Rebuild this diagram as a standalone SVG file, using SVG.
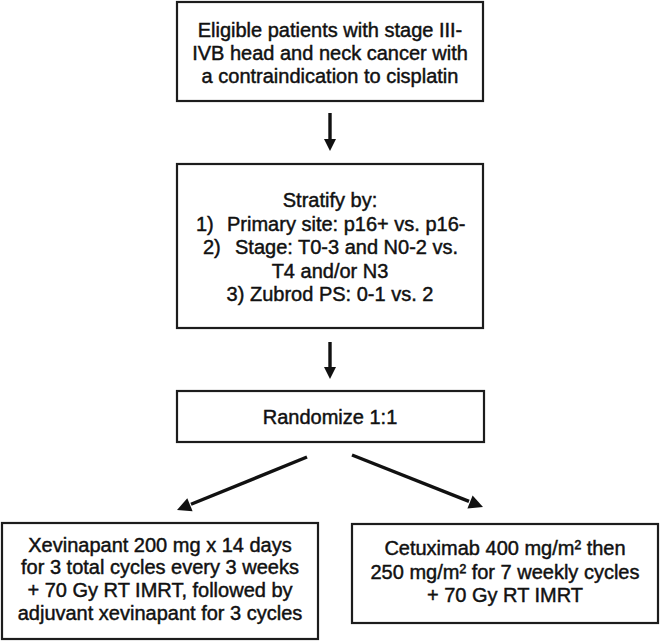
<svg xmlns="http://www.w3.org/2000/svg" width="661" height="642" viewBox="0 0 661 642">
<style>
.box{fill:#fff;stroke:#1c1c1c;stroke-width:2.2}
.t{font-family:"Liberation Sans",Arial,sans-serif;font-size:20px;fill:#111;stroke:#111;stroke-width:0.45}
.c{text-anchor:middle}
.ln{stroke:#111;stroke-width:3.4;fill:none}
.hd{fill:#111}
</style>
<rect width="661" height="642" fill="#fff"/>
<g id="eligible">
<rect class="box" x="177" y="2" width="306" height="99"/>
<text class="t c" x="330" y="36.5">Eligible patients with stage III-</text>
<text class="t c" x="330" y="59.5">IVB head and neck cancer with</text>
<text class="t c" x="330" y="82.5">a contraindication to cisplatin</text>
</g>
<g id="stratify">
<rect class="box" x="177" y="164" width="306" height="164"/>
<text class="t c" x="330" y="207">Stratify by:</text>
<text class="t" y="230.5"><tspan x="196">1)</tspan><tspan x="227">Primary site: p16+ vs. p16-</tspan></text>
<text class="t" y="254"><tspan x="203">2)</tspan><tspan x="235">Stage: T0-3 and N0-2 vs.</tspan></text>
<text class="t c" x="330" y="277.5">T4 and/or N3</text>
<text class="t c" x="330" y="301">3) Zubrod PS: 0-1 vs. 2</text>
</g>
<g id="randomize">
<rect class="box" x="177" y="391" width="307" height="51"/>
<text class="t c" x="330" y="424">Randomize 1:1</text>
</g>
<g id="xevinapant">
<rect class="box" x="2" y="523" width="316" height="116"/>
<text class="t c" x="160" y="551.5">Xevinapant 200 mg x 14 days</text>
<text class="t c" x="160" y="574">for 3 total cycles every 3 weeks</text>
<text class="t c" x="160" y="597">+ 70 Gy RT IMRT, followed by</text>
<text class="t c" x="160" y="620">adjuvant xevinapant for 3 cycles</text>
</g>
<g id="cetuximab">
<rect class="box" x="352" y="524" width="306" height="99"/>
<text class="t c" x="505" y="555">Cetuximab 400 mg/m² then</text>
<text class="t c" x="505" y="578.5">250 mg/m² for 7 weekly cycles</text>
<text class="t c" x="505" y="602">+ 70 Gy RT IMRT</text>
</g>
<g id="connectors">
<line class="ln" x1="330" y1="113" x2="330" y2="141"/>
<polygon class="hd" points="324,139 336,139 330,151"/>
<line class="ln" x1="330" y1="342" x2="330" y2="369"/>
<polygon class="hd" points="324,367 336,367 330,379"/>
<line class="ln" x1="307" y1="457" x2="191" y2="504.3"/>
<polygon class="hd" points="177,510 192.6,511.2 187.3,498.2"/>
<line class="ln" x1="352" y1="455" x2="469" y2="501.4"/>
<polygon class="hd" points="483,507 467.4,508.4 472.6,495.4"/>
</g>
</svg>
